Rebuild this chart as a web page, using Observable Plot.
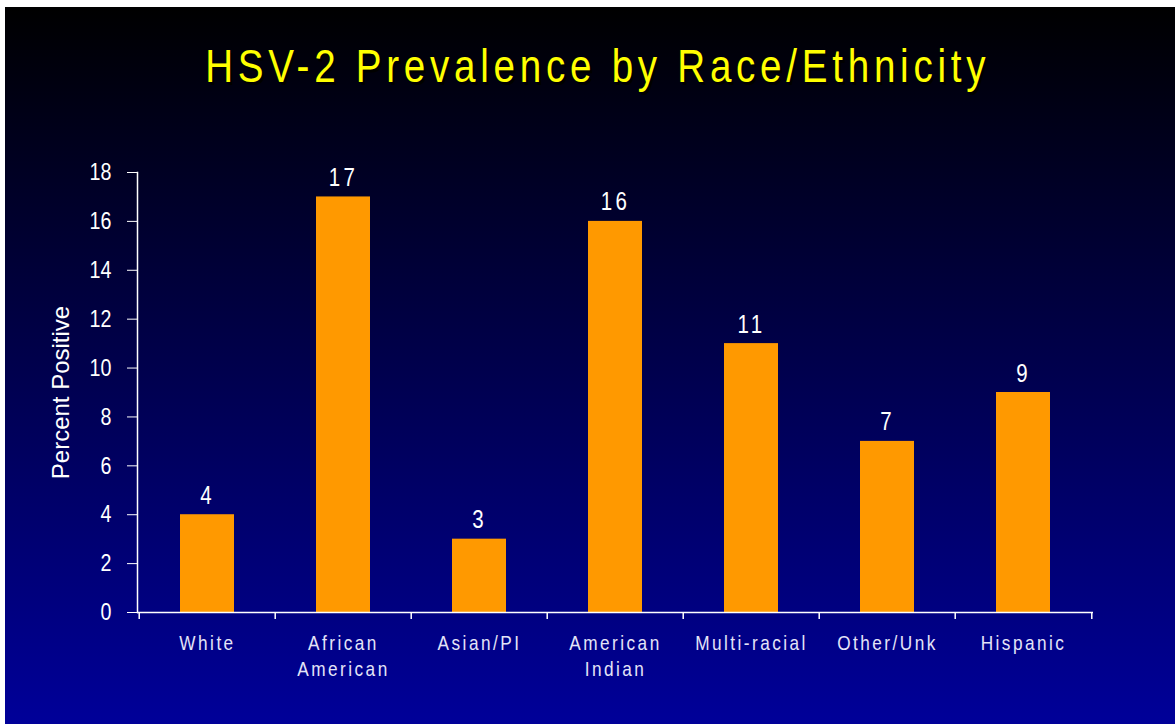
<!DOCTYPE html>
<html>
<head>
<meta charset="utf-8">
<script src="https://cdn.jsdelivr.net/npm/d3@7"></script>
<script src="https://cdn.jsdelivr.net/npm/@observablehq/plot@0.6"></script>
<style>
  html, body { margin: 0; padding: 0; background: #fff; }
  #wrap {
    position: relative; width: 1175px; height: 724px; overflow: hidden;
    background:
      linear-gradient(#fff, #fff) 0 0 / 1175px 7px no-repeat,
      linear-gradient(#fff, #fff) 0 0 / 5px 724px no-repeat,
      linear-gradient(to bottom, #000000 0px, #000000 7px, #000099 724px);
  }
  #title {
    height: 120px; box-sizing: border-box; padding-top: 38px; padding-left: 20px;
    text-align: center;
  }
  #title span {
    display: inline-block; color: #ffff00;
    font-family: "Liberation Sans", Arial, sans-serif;
    font-size: 47px; letter-spacing: 5.8px; line-height: 56px;
    text-shadow: 3px 3px 0 #000000;
    transform: scaleX(0.82); transform-origin: center;
    white-space: nowrap;
  }
  #chart svg { display: block; }
</style>
</head>
<body>
<div id="wrap">
  <div id="title"><span>HSV-2 Prevalence by Race/Ethnicity</span></div>
  <div id="chart"></div>
</div>
<script>
const categories = ["White", "African\nAmerican", "Asian/PI", "American\nIndian", "Multi-racial", "Other/Unk", "Hispanic"];
const values = [4, 17, 3, 16, 11, 7, 9];
const yTicks = [0, 2, 4, 6, 8, 10, 12, 14, 16, 18];

const data = categories.map((c, i) => ({category: c, value: values[i]}));

const W = 1175, H = 604;
const mL = 137, mR = 82, mT = 52, mB = 112;
const step = (W - mL - mR) / categories.length;
const sans = '"Liberation Sans", Arial, sans-serif';

const chart = Plot.plot({
  width: W, height: H,
  marginLeft: mL, marginRight: mR, marginTop: mT, marginBottom: mB,
  style: {background: "transparent", color: "#ffffff", overflow: "visible"},
  x: {domain: categories, paddingInner: 0.6, paddingOuter: 0.3, axis: null},
  y: {domain: [0, 18], axis: null},
  marks: [
    Plot.barY(data, {x: "category", y: "value", fill: "#ff9900"}),
    // axis lines
    Plot.frame({anchor: "left", stroke: "#ffffff", strokeWidth: 1.5}),
    Plot.ruleY([0], {stroke: "#ffffff", strokeWidth: 1.5}),
    // x boundary ticks
    Plot.ruleX(categories, {x: d => d, y1: 0, y2: 0, insetBottom: -7, dx: -step / 2, stroke: "#ffffff", strokeWidth: 1.5}),
    Plot.ruleX(categories.slice(-1), {x: d => d, y1: 0, y2: 0, insetBottom: -7, dx: step / 2, stroke: "#ffffff", strokeWidth: 1.5}),
    // y axis
    Plot.axisY({
      ticks: yTicks, tickSize: 10, tickPadding: 16, tickFormat: d => String(d),
      stroke: "#ffffff", fill: "#ffffff", fontSize: 24, fontFamily: sans,
      label: "Percent Positive", labelAnchor: "center", labelOffset: 86, labelArrow: "none"
    }),
    // x labels
    Plot.axisX({
      tickSize: 0, tickPadding: 20, fill: "#e4e4f8", fontSize: 21, fontFamily: sans,
      label: null, lineHeight: 1.2
    }),
    // value labels
    Plot.text(data, {
      x: "category", y: "value", text: d => String(d.value),
      lineAnchor: "bottom", dy: -11, fill: "#ffffff", fontSize: 25, fontFamily: sans
    })
  ]
});

const svg = d3.select(chart);
function narrow(sel) {
  sel.each(function () {
    const t = this.getAttribute("transform") || "";
    this.setAttribute("transform", t + " scale(0.82,1)");
  });
}
narrow(svg.selectAll("g[aria-label='y-axis tick label'] text"));
narrow(svg.selectAll("g[aria-label='x-axis tick label'] text"));
narrow(svg.selectAll("g[aria-label='text'] text"));
svg.selectAll("g[aria-label='x-axis tick label'] text").style("letter-spacing", "3px");
svg.selectAll("g[aria-label='text'] text").style("letter-spacing", "4px");
svg.selectAll("g[aria-label='y-axis label'] text").style("font-size", "24px");
document.getElementById("chart").appendChild(chart);
</script>
</body>
</html>
